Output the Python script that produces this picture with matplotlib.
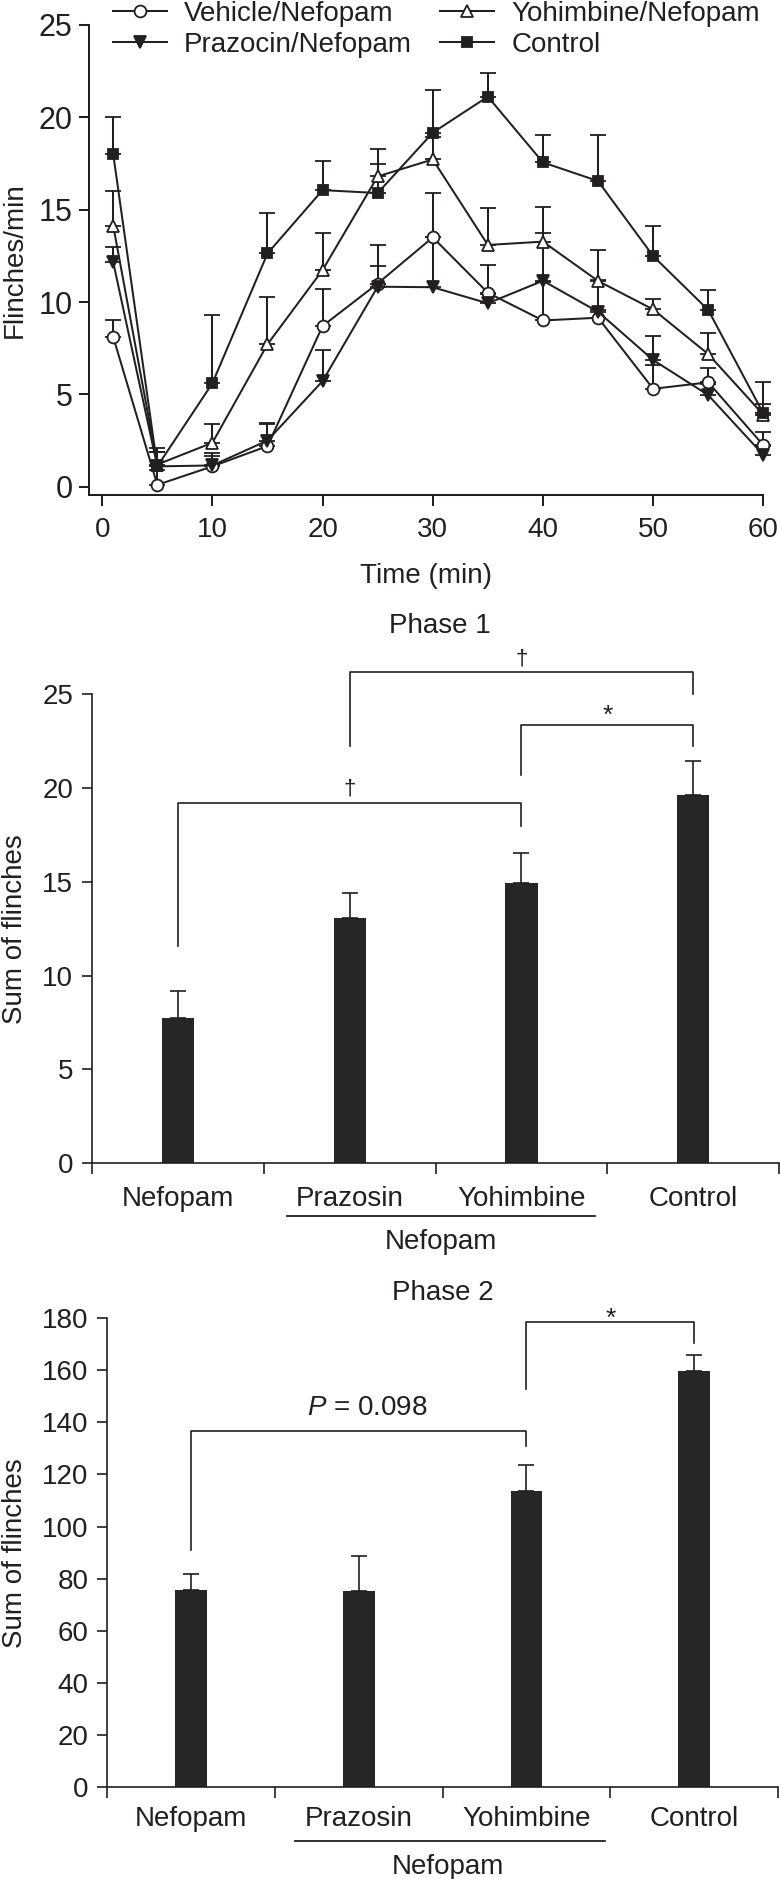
import numpy as np
import matplotlib
matplotlib.use('Agg')
import matplotlib.pyplot as plt
from matplotlib.transforms import blended_transform_factory

INK = '#231f20'
BAR = '#262626'
plt.rcParams.update({
    'font.family': ['Liberation Sans', 'DejaVu Sans'],
    'font.size': 20,
    'text.color': INK, 'axes.edgecolor': INK, 'axes.labelcolor': INK,
    'xtick.color': INK, 'ytick.color': INK,
    'axes.linewidth': 1.3,
    'xtick.major.width': 1.3, 'ytick.major.width': 1.3, 'xtick.minor.width': 1.3,
    'mathtext.fontset': 'custom', 'mathtext.it': 'Liberation Sans:italic',
    'mathtext.rm': 'Liberation Sans',
})

# ---------------------------------------------------------------- time course (mean, upper SE)
TIME = [1, 5, 10, 15, 20, 25, 30, 35, 40, 45, 50, 55, 60]
VEHICLE = [8.1, 0.1, 1.1, 2.2, 8.7, 11.0, 13.5, 10.5, 9.0, 9.15, 5.3, 5.65, 2.25]
VEHICLE_SE = [0.9, 0.8, 0.7, 1.2, 2.0, 2.1, 2.4, 1.5, 2.1, 0.4, 1.3, 0.75, 0.7]
PRAZOCIN = [12.15, 1.1, 1.15, 2.5, 5.72, 10.83, 10.8, 9.93, 11.15, 9.47, 6.86, 4.96, 1.72]
PRAZOCIN_SE = [0.85, 0.8, 0.5, 0.95, 1.7, 1.1, 2.7, 0.5, 2.6, 1.7, 1.3, 0.6, 0.5]
YOHIMBINE = [14.13, 1.2, 2.38, 7.71, 11.73, 16.8, 17.72, 13.09, 13.27, 11.14, 9.6, 7.18, 3.9]
YOHIMBINE_SE = [1.9, 0.7, 1.0, 2.55, 2.0, 1.5, 1.2, 2.0, 1.85, 1.7, 0.55, 1.15, 0.6]
CONTROL = [18.0, 1.1, 5.6, 12.63, 16.06, 15.9, 19.17, 21.12, 17.56, 16.55, 12.49, 9.57, 3.97]
CONTROL_SE = [2.0, 1.0, 3.7, 2.2, 1.6, 1.6, 2.3, 1.3, 1.5, 2.5, 1.6, 1.1, 1.7]

# ---------------------------------------------------------------- phase sums
GROUPS = ['Nefopam', 'Prazosin', 'Yohimbine', 'Control']
PHASE1 = [7.75, 13.08, 14.95, 19.64]
PHASE1_SE = [1.42, 1.3, 1.58, 1.8]
PHASE2 = [75.6, 75.4, 113.7, 159.6]
PHASE2_SE = [6.3, 13.2, 9.8, 6.1]

# brackets: (group a, group b, bar level, leg end a, leg end b, mark, mark x, mark y, mark va)
PHASE1_BRACKETS = [
    (1, 3, 26.19, 22.25, 25.03, '\u2020', 2.0, 26.9, 'center'),
    (2, 3, 23.35, 20.68, 22.25, '*', 2.5, 23.45, 'baseline'),
    (0, 2, 19.22, 11.56, 18.0, '\u2020', 1.0, 19.96, 'center'),
]
PHASE2_BRACKETS = [
    (2, 3, 178.6, 152.7, 170.5, '*', 2.5, 177.0, 'baseline'),
    (0, 2, 136.8, 91.1, 130.9, '$P$ = 0.098', 1.05, 145.5, 'center'),
]

W, H = 780, 1879
fig = plt.figure(figsize=(W / 100, H / 100), dpi=100)


def rect(left, top, right, bottom):
    return [left / W, 1 - bottom / H, (right - left) / W, (bottom - top) / H]


# ---------------------------------------------------------------- top: time course
ax = fig.add_axes(rect(89, 25, 763.3, 495))
series = [
    (VEHICLE, VEHICLE_SE, 'o', 'white', 8.5, 'Vehicle/Nefopam'),
    (PRAZOCIN, PRAZOCIN_SE, 'v', INK, 9, 'Prazocin/Nefopam'),
    (YOHIMBINE, YOHIMBINE_SE, '^', 'white', 9, 'Yohimbine/Nefopam'),
    (CONTROL, CONTROL_SE, 's', INK, 7.5, 'Control'),
]
handles = []
for y, se, mk, face, ms, lab in series:
    c = ax.errorbar(TIME, y, yerr=[np.zeros(len(se)), se], fmt='-', marker=mk,
                    mfc=face, mec=INK, mew=1.3, ms=ms, color=INK, lw=1.45,
                    elinewidth=1.45, capsize=5.6, capthick=1.45, label=lab, clip_on=False)
    handles.append(c.lines[0])
ax.set_xlim(-1.2, 60)
ax.set_ylim(-0.45, 25)
ax.set_xticks(range(0, 61, 10))
ax.set_yticks(range(0, 26, 5))
ax.spines[['top', 'right']].set_visible(False)
ax.spines[['left', 'bottom']].set_linewidth(1.45)
ax.tick_params(axis='x', length=8, width=1.45, pad=8)
ax.tick_params(axis='y', length=7.2, width=1.45, pad=4.5, labelsize=22)
ax.set_xlabel('Time (min)', labelpad=14)
ax.set_ylabel('Flinches/min')
ax.yaxis.set_label_coords(-0.091, 0.5)
fig.legend(handles, [s[5] for s in series], ncol=2, loc='upper left',
           bbox_to_anchor=(112.7 / W, 1 - 1 / H), frameon=False, fontsize=20,
           handlelength=1.94, handletextpad=0.63, columnspacing=1.0,
           labelspacing=0.18, borderpad=0, borderaxespad=0)


# ---------------------------------------------------------------- phase panels
def phase_panel(box, vals, se, top, step, title, title_xy, brackets, lab_pad,
                underline_y, sub_y, ylab_x, ul_span):
    ax = fig.add_axes(box)
    xs = np.arange(len(GROUPS))
    ax.bar(xs, vals, width=0.19, color=BAR, yerr=[np.zeros(len(se)), se],
           capsize=5.5, error_kw={'elinewidth': 1.2, 'capthick': 1.2, 'ecolor': INK})
    ax.set_xlim(-0.5, 3.5)
    ax.set_ylim(0, top)
    ax.set_yticks(np.arange(0, top + 1, step))
    ax.set_xticks(xs, GROUPS)
    ax.set_xticks(np.arange(-0.5, 4, 1), minor=True)
    ax.tick_params(axis='x', which='major', length=0, pad=lab_pad)
    ax.tick_params(axis='x', which='minor', length=7.7, width=1.2)
    ax.tick_params(axis='y', length=7.2, width=1.2, pad=6.5)
    ax.spines[['top', 'right']].set_visible(False)
    ax.spines[['left', 'bottom']].set_linewidth(1.2)
    ax.set_ylabel('Sum of flinches')
    ax.yaxis.set_label_coords(ylab_x, 0.5)
    trans = blended_transform_factory(ax.transData, ax.transAxes)
    ax.plot(ul_span, [underline_y, underline_y], transform=trans, color=INK,
            lw=1.3, clip_on=False)
    ax.text(1.53, sub_y, 'Nefopam', transform=trans, ha='center', va='center')
    for a, b, lvl, ea, eb, mark, mx, my, va in brackets:
        ax.plot([a, a, b, b], [ea, lvl, lvl, eb], color=INK, lw=1.2, clip_on=False)
        size = 20 if mark.startswith('$') else (19 if mark == '*' else 16)
        ax.text(mx, my, mark, ha='center', va=va, fontsize=size)
    fig.text(title_xy[0] / W, 1 - title_xy[1] / H, title, ha='center', va='center')
    return ax


phase_panel(rect(92.3, 694.2, 779, 1163.3), PHASE1, PHASE1_SE, 25, 5, 'Phase 1',
            (440, 626), PHASE1_BRACKETS, 16.5, -0.1123, -0.1686, -0.0936, [0.637, 2.427])
phase_panel(rect(107.3, 1318, 778, 1787.3), PHASE2, PHASE2_SE, 180, 20, 'Phase 2',
            (443, 1293), PHASE2_BRACKETS, 13.7, -0.1151, -0.170, -0.1188, [0.617, 2.466])

fig.savefig('out.png', dpi=100)
